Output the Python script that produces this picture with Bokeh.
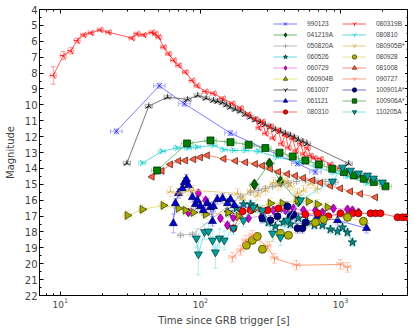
import math
from bokeh.plotting import figure
from bokeh.models import (Range1d, FixedTicker, LogAxis, LinearAxis, Whisker, TeeHead,
                          ColumnDataSource, Legend, LegendItem)
from bokeh.embed import file_html
from bokeh.resources import INLINE

# ---------------- data (time since trigger [s], magnitude) ----------------
t_990123 = [25.1, 50.9, 76.9, 164, 493, 663]
m_990123 = [11.67, 8.8, 9.93, 11.78, 13.7, 14.23]

t_041219A = [243, 311, 373, 501]
m_041219A = [15.01, 13.69, 14.82, 16.08]

t_050820A = [72, 87.7, 193, 228, 259, 291, 327, 373, 425, 485, 562, 663, 781, 921]
m_050820A = [18.2, 18.15, 15.76, 15.51, 15.38, 15.26, 15.13, 15.01, 14.94, 14.82, 14.75, 14.75, 14.82, 14.88]

t_060526 = [158, 181, 203, 228, 255, 277, 306, 343, 391, 439, 501, 581, 652, 743, 848, 953, 1034, 1122, 1218]
m_060526 = [16.77, 16.52, 16.26, 16.26, 16.52, 17.14, 17.4, 17.65, 17.4, 17.52, 17.14, 17.4, 17.58, 17.58,
            17.84, 17.96, 17.71, 18.03, 18.65]

t_060729 = [82.1, 96.8, 109, 139, 156, 172, 220, 277, 332, 405, 461, 544, 663, 743, 891, 1122, 1218, 1345]
m_060729 = [16.77, 15.57, 16.01, 17.14, 17.58, 17.08, 17.14, 16.96, 16.64, 16.64, 16.52, 16.64, 16.64, 16.77,
            16.52, 16.58, 16.64, 16.77]

t_060904B = [30.1, 38.5, 54.4, 69.7, 78.2, 89.1, 109, 158, 187, 247, 316, 385, 493, 591, 686, 807]
m_060904B = [16.96, 16.58, 16.33, 16.52, 16.64, 16.77, 16.89, 16.77, 17.02, 16.52, 16.2, 16.2, 16.01, 16.08,
             16.26, 16.45]

t_061007 = [29.9, 42.8, 58.3, 81.1, 95.7, 110, 124, 133, 144, 154, 164, 178, 193, 210, 228, 248, 268, 290,
            316, 343, 373, 405, 439, 470, 501, 540, 578, 1146]
m_061007 = [13.67, 10.08, 9.52, 9.66, 9.41, 9.58, 9.72, 9.78, 9.85, 10.0, 10.15, 10.28, 10.4, 10.6, 10.77,
            10.95, 11.1, 11.25, 11.4, 11.55, 11.67, 11.8, 11.92, 12.05, 12.2, 12.3, 12.45, 13.7]

t_061121 = [64.1, 66.3, 69.7, 74.3, 76.9, 79.4, 82.1, 87.7, 92.1, 95.3, 100, 105, 112, 118, 122, 124, 132,
            144, 156, 164, 175, 686, 953, 1535]
m_061121 = [17.46, 16.2, 15.57, 15.26, 14.88, 14.69, 15.07, 15.82, 16.26, 16.01, 16.39, 16.64, 16.2, 16.45,
            17.33, 16.39, 15.95, 15.89, 16.2, 15.95, 16.33, 17.02, 17.27, 17.77]

t_080310 = [172, 200, 228, 301, 361, 562, 686, 820, 1000, 1218, 1345, 1638, 1778, 1931, 2554, 2772, 2958]
m_080310 = [17.77, 16.7, 16.64, 16.64, 16.52, 16.9, 16.83, 17.02, 16.83, 16.83, 16.83, 16.83, 16.83, 16.83,
            17.08, 17.08, 17.08]

t_080319B = [8.9, 10.5, 11.9, 13.2, 14.7, 16.6, 19.3, 22.1, 32.5, 35.3, 39.4, 45.2, 47.7, 50.4, 54.7, 59.4,
             64.4, 70, 78.2, 87.3, 94.7, 108.6, 124, 144, 169, 193, 220, 247, 262, 277, 292, 316, 330, 361,
             380, 405, 425, 454, 480, 518, 545, 580, 611, 650, 720, 848, 1000, 1179, 1389, 1693]
m_080319B = [8.15, 6.9, 6.6, 5.95, 5.6, 5.47, 5.28, 5.43, 5.8, 5.53, 5.6, 5.43, 5.53, 5.74, 6.37, 6.79,
             7.2, 7.52, 7.94, 8.47, 8.8, 9.16, 9.28, 9.6, 9.91, 10.2, 10.6, 10.9, 11.45, 11.05, 11.8, 11.35,
             12.1, 11.6, 12.45, 11.9, 12.7, 12.1, 12.9, 12.45, 13.1, 12.7, 13.2, 13.35, 13.4, 13.75, 14.0,
             14.25, 14.5, 14.8]

t_080810 = [38.4, 53.2, 68.2, 81.7, 94.7, 124, 147, 173, 210, 259, 353, 518, 682, 891, 1117, 1552]
m_080810 = [13.67, 12.93, 12.71, 12.72, 12.66, 12.55, 12.82, 12.87, 12.87, 12.93, 13.29, 13.62, 13.94,
            14.25, 14.5, 14.94]

t_080905B = [61.1, 70.8, 82.1, 89.1, 184, 200, 228, 255, 291, 332, 361, 385, 418, 439, 493, 544, 611, 686]
m_080905B = [15.45, 15.57, 15.38, 15.38, 15.57, 15.89, 15.38, 15.7, 15.38, 14.88, 15.07, 14.75, 14.88,
             15.07, 15.57, 15.38, 14.94, 15.26]

t_080928 = [213, 235, 255, 277, 373, 425, 663, 757, 1122, 1459]
m_080928 = [18.84, 18.53, 18.28, 19.09, 18.09, 18.21, 17.4, 17.2, 17.08, 17.33]

t_081008 = [45.2, 53.2, 61.1, 70, 78.2, 89.6, 100, 112, 147, 178, 210, 247, 277, 316, 361, 418, 477, 544,
            631, 720, 848, 1000, 1179, 1389, 1778]
m_081008 = [14.53, 14.16, 13.75, 13.53, 13.5, 13.43, 13.31, 13.18, 13.4, 13.53, 13.62, 13.72, 13.84, 14.03,
            14.22, 14.35, 14.47, 14.6, 14.75, 14.91, 15.1, 15.26, 15.45, 15.6, 15.82]

t_090727 = [169, 193, 210, 235, 301, 338, 485, 1000, 1122]
m_090727 = [19.6, 19.16, 18.53, 18.21, 18.91, 19.66, 20.1, 20.04, 20.23]

t_100901A = [277, 316, 355, 418, 439, 461, 493, 535, 562]
m_100901A = [17.14, 17.27, 17.02, 16.39, 17.02, 16.9, 17.77, 17.77, 17.4]

t_100906A = [49.1, 80.3, 118, 164, 221, 291, 367, 456, 562, 700, 873, 1056, 1245, 1466, 1729, 2096]
m_100906A = [14.13, 12.43, 12.24, 12.35, 12.51, 12.72, 13.01, 13.25, 13.5, 13.75, 14.02, 14.23, 14.44,
             14.65, 14.86, 15.13]

t_110205A = [93.6, 96.8, 107, 114, 122, 128, 137, 148, 172, 203, 239, 277, 327, 373, 418, 518, 877, 1034,
             1179, 1345, 1560, 1720, 1995]
m_110205A = [18.4, 19.4, 18.0, 17.96, 18.53, 19.28, 18.4, 18.53, 17.77, 17.27, 16.45, 16.64, 18.09, 18.34,
             17.27, 16.0, 14.82, 13.94, 14.13, 14.31, 14.44, 14.63, 14.88]
e_110205A = [0.6, 1.3, 0.5, 0.5, 0.6, 1.0, 0.6, 0.6, 0.4, 0.4, 0.3, 0.3, 0.5, 0.5, 0.4, 0.3, 0.15, 0.1,
             0.1, 0.1, 0.1, 0.1, 0.1]
e_080319B_first = [0.55, 0.25, 0.2, 0.15]

# relative time error and magnitude error per burst
xerr = {"990123": 0.1, "041219A": 0.08, "050820A": 0.05, "060526": 0.04, "060729": 0.04, "060904B": 0.07,
        "061007": 0.06, "061121": 0.02, "080310": 0.03, "080319B": 0.05, "080810": 0.06, "080905B*": 0.06,
        "080928": 0.03, "081008": 0.03, "090727": 0.06, "100901A*": 0.03, "100906A*": 0.1, "110205A": 0.03}
yerr = {"990123": 0.15, "041219A": 0.2, "050820A": 0.12, "060526": 0.25, "060729": 0.2, "060904B": 0.3,
        "061007": 0.1, "061121": 0.3, "080310": 0.1, "080319B": 0.1, "080810": 0.1, "080905B*": 0.3,
        "080928": 0.25, "081008": 0.08, "090727": 0.3, "100901A*": 0.3, "100906A*": 0.1, "110205A": 0.3}

names = ["990123", "041219A", "050820A", "060526", "060729", "060904B", "061007", "061121", "080310",
         "080319B", "080810", "080905B*", "080928", "081008", "090727", "100901A*", "100906A*", "110205A"]
data = {
    "990123": (t_990123, m_990123), "041219A": (t_041219A, m_041219A), "050820A": (t_050820A, m_050820A),
    "060526": (t_060526, m_060526), "060729": (t_060729, m_060729), "060904B": (t_060904B, m_060904B),
    "061007": (t_061007, m_061007), "061121": (t_061121, m_061121), "080310": (t_080310, m_080310),
    "080319B": (t_080319B, m_080319B), "080810": (t_080810, m_080810), "080905B*": (t_080905B, m_080905B),
    "080928": (t_080928, m_080928), "081008": (t_081008, m_081008), "090727": (t_090727, m_090727),
    "100901A*": (t_100901A, m_100901A), "100906A*": (t_100906A, m_100906A), "110205A": (t_110205A, m_110205A),
}

x_major = [10, 100, 1000]
x_minor = [8, 9, 20, 30, 40, 50, 60, 70, 80, 90, 200, 300, 400, 500, 600, 700, 800, 900, 2000, 3000]
y_major = list(range(4, 23))
y_minor = [v + 0.5 for v in range(4, 22)]

# ---------------- styles ----------------
P = math.pi
STY = {
    "990123":   dict(marker="x", angle=0, size=7, fill="#0000ff", edge="#0000ff", line="#5a5aff"),
    "041219A":  dict(marker="diamond", angle=0, size=11, fill="#006400", edge="#002000", line="#44aa44"),
    "050820A":  dict(marker="cross", angle=0, size=7, fill="#999999", edge="#999999", line="#b0b0b0"),
    "060526":   dict(marker="star", angle=0, size=9, fill="#008b8b", edge="#002a2a", line="#40d0d0"),
    "060729":   dict(marker="diamond", angle=0, size=9, fill="#cc00cc", edge="#550055", line="#ee77ee"),
    "060904B":  dict(marker="triangle", angle=-P / 2, size=8, fill="#a8a800", edge="#303000", line="#e0e060"),
    "061007":   dict(marker="y", angle=P, size=7, fill="#000000", edge="#000000", line="#555555"),
    "061121":   dict(marker="triangle", angle=0, size=8, fill="#0000cc", edge="#000040", line="#5a5aff"),
    "080310":   dict(marker="circle", angle=0, size=7, fill="#ff0000", edge="#660000", line="#ff4040"),
    "080319B":  dict(marker="y", angle=-P / 2, size=7, fill="#ff0000", edge="#ff0000", line="#ff3030"),
    "080810":   dict(marker="y", angle=P / 2, size=7, fill="#00cccc", edge="#00cccc", line="#30d0d0"),
    "080905B*": dict(marker="y", angle=P, size=7, fill="#d8a030", edge="#d8a030", line="#e0c070"),
    "080928":   dict(marker="circle", angle=0, size=8, fill="#b0b000", edge="#303000", line="#e6e070"),
    "081008":   dict(marker="triangle", angle=P / 2, size=7, fill="#ff6347", edge="#502010", line="#ff7050"),
    "090727":   dict(marker="y", angle=0, size=7, fill="#ff7f50", edge="#ff7f50", line="#ff8c60"),
    "100901A*": dict(marker="circle", angle=0, size=7, fill="#000080", edge="#000030", line="#5050c0"),
    "100906A*": dict(marker="square", angle=0, size=7, fill="#008000", edge="#002000", line="#55aa55"),
    "110205A":  dict(marker="inverted_triangle", angle=0, size=8, fill="#00a0a0", edge="#003030", line="#60dddd"),
}

p = figure(x_axis_type="log", x_range=Range1d(7.1, 3060), y_range=Range1d(22, 4),
           frame_width=369, frame_height=286, output_backend="svg", toolbar_location=None,
           min_border_left=39, min_border_right=0, min_border_top=9, min_border_bottom=0)
p.grid.visible = False
p.outline_line_color = "black"
p.outline_line_width = 1
p.background_fill_color = "white"

items = []
for nm in names:
    t, m = data[nm]
    st = STY[nm]
    fx = xerr[nm]
    if nm == "110205A":
        ey = e_110205A
    elif nm == "080319B":
        ey = e_080319B_first + [yerr[nm]] * (len(t) - len(e_080319B_first))
    elif nm == "061121":
        ey = [0.6] + [yerr[nm]] * (len(t) - 1)
    else:
        ey = [yerr[nm]] * len(t)
    src = ColumnDataSource(dict(
        t=t, m=m,
        tlo=[v / (1 + fx) for v in t], thi=[v * (1 + fx) for v in t],
        mlo=[a - b for a, b in zip(m, ey)], mhi=[a + b for a, b in zip(m, ey)]))
    ec = st["line"]
    wx = Whisker(source=src, base="m", lower="tlo", upper="thi", dimension="width",
                 line_color=ec, line_alpha=0.6, line_width=0.8,
                 upper_head=TeeHead(size=5, line_color=ec, line_alpha=0.6, line_width=0.8),
                 lower_head=TeeHead(size=5, line_color=ec, line_alpha=0.6, line_width=0.8))
    wy = Whisker(source=src, base="t", lower="mlo", upper="mhi", dimension="height",
                 line_color=ec, line_alpha=0.6, line_width=0.8,
                 upper_head=TeeHead(size=5, line_color=ec, line_alpha=0.6, line_width=0.8),
                 lower_head=TeeHead(size=5, line_color=ec, line_alpha=0.6, line_width=0.8))
    p.add_layout(wx)
    p.add_layout(wy)
    lr = p.line("t", "m", source=src, line_color=st["line"], line_width=0.8)
    sr = p.scatter("t", "m", source=src, marker=st["marker"], angle=st["angle"], size=st["size"],
                   fill_color=st["fill"], line_color=st["edge"], line_width=0.7)
    items.append(LegendItem(label=nm, renderers=[lr, sr]))

common = dict(glyph_width=24, glyph_height=11, label_height=11, spacing=0, padding=0, margin=0,
              label_standoff=10, label_text_font_size="6.5px", label_text_font="Liberation Sans",
              border_line_alpha=0, background_fill_alpha=1.0)
leg1 = Legend(items=items[:9], location=(234, 178), **common)
leg2 = Legend(items=items[9:], location=(303, 178), **common)
p.add_layout(leg1)
p.add_layout(leg2)

# axes
xa = p.xaxis[0]
ya = p.yaxis[0]
xa.ticker = FixedTicker(ticks=x_major, minor_ticks=x_minor)
ya.ticker = FixedTicker(ticks=y_major, minor_ticks=y_minor)
xa.axis_label = "Time since GRB trigger [s]"
ya.axis_label = "Magnitude"
for ax in (xa, ya):
    ax.axis_label_text_font = "DejaVu Sans"
    ax.axis_label_text_font_style = "normal"
    ax.axis_label_text_font_size = "10px"
    ax.major_label_text_font = "DejaVu Sans"
    ax.major_tick_in = 4
    ax.major_tick_out = 0
    ax.minor_tick_in = 2
    ax.minor_tick_out = 0
    ax.axis_line_color = "black"
    ax.major_label_standoff = 2
xa.axis_label_standoff = 4
ya.axis_label_standoff = 6
xa.major_label_text_font_size = "9px"
ya.major_label_text_font_size = "10px"

top = LogAxis(ticker=FixedTicker(ticks=x_major, minor_ticks=x_minor), major_label_text_font_size="1px",
              major_label_text_alpha=0, major_label_standoff=0, major_tick_in=4, major_tick_out=0,
              minor_tick_in=2, minor_tick_out=0)
right = LinearAxis(ticker=FixedTicker(ticks=y_major, minor_ticks=y_minor), major_label_text_font_size="1px",
                   major_label_text_alpha=0, major_label_standoff=0, major_tick_in=4, major_tick_out=0,
                   minor_tick_in=2, minor_tick_out=0)
p.add_layout(top, "above")
p.add_layout(right, "right")

open("out.html", "w").write(file_html(p, INLINE))
